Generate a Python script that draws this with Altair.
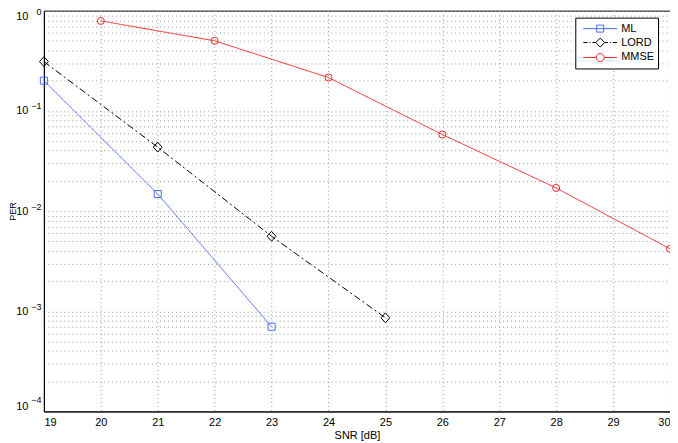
import altair as alt
import pandas as pd

series_names = ["ML", "LORD", "MMSE"]
snr_ml = [19, 21, 23]
per_ml = [0.20, 0.0148, 7.0e-4]
snr_lord = [19, 21, 23, 25]
per_lord = [0.31, 0.0434, 5.6e-3, 8.6e-4]
snr_mmse = [20, 22, 24, 26, 28, 30]
per_mmse = [0.79, 0.50, 0.215, 0.058, 0.017, 0.0042]
x_ticks = list(range(19, 31))
decades = [-4, -3, -2, -1, 0]
exponent_labels = ["\u22124", "\u22123", "\u22122", "\u22121", "0"]

colors = ["#4a6cf5", "#000000", "#f02828"]
dashes = [[1, 0], [7, 3, 2, 3], [1, 0]]
marker_shapes = ["square", "M0,-1.4L1.25,0L0,1.4L-1.25,0Z", "circle"]
# legend symbols (line + marker), drawn 2.15 units to the right of the nominal symbol centre
legend_paths = [
    "M-0.45,0H4.75M1.61,-0.54H2.69V0.54H1.61Z",
    "M-0.45,0H0.2M0.5,0H0.65M0.95,0H1.46M2.84,0H3.35M3.65,0H3.8M4.1,0H4.75M2.15,-0.69L2.84,0L2.15,0.69L1.46,0Z",
    "M-0.45,0H1.53M2.77,0H4.75M2.77,0A0.62,0.62 0 1,1 1.53,0A0.62,0.62 0 1,1 2.77,0Z",
]

rows = []
for name, xs, ys in [("ML", snr_ml, per_ml), ("LORD", snr_lord, per_lord), ("MMSE", snr_mmse, per_mmse)]:
    for x, y in zip(xs, ys):
        rows.append({"series": name, "snr": x, "per": y})
df = pd.DataFrame(rows)

y_vals = []
for d in decades:
    for m in range(1, 10):
        v = m * 10.0 ** d
        if v <= 1.0 + 1e-12:
            y_vals.append(v)
decade_vals = [10.0 ** d for d in decades]

font = "Liberation Sans"
is_decade = "abs(log(datum.value)/LN10 - round(log(datum.value)/LN10)) < 0.001"
exp_array = "[" + ",".join("'" + s + "'" for s in exponent_labels) + "]"

x_enc = alt.X("snr:Q", title="SNR [dB]",
              scale=alt.Scale(domain=[19, 30], nice=False),
              axis=alt.Axis(values=x_ticks, format="d", grid=True, ticks=False, tickSize=0,
                            gridDash=[1, 3], gridColor="#9a9a9a", labelPadding=5,
                            domainColor="black", titlePadding=2))
y_scale = alt.Scale(type="log", domain=[1e-4, 1], nice=False)
y_enc = alt.Y("per:Q", title="PER", scale=y_scale,
              axis=alt.Axis(values=y_vals, grid=True, ticks=False, tickSize=0, labelOverlap=False,
                            labelFlush=True, labelPadding=16,
                            gridDash=[1, 3], gridColor="#9a9a9a", domainColor="black",
                            labelExpr=is_decade + " ? '10' : ''",
                            titleX=-26.5, titleFontSize=9))

color_nolegend = alt.Color("series:N", scale=alt.Scale(domain=series_names, range=colors), legend=None)

lines = alt.Chart(df).mark_line(strokeWidth=1).encode(
    x=x_enc, y=y_enc, color=color_nolegend,
    strokeDash=alt.StrokeDash("series:N", scale=alt.Scale(domain=series_names, range=dashes), legend=None),
)
points = alt.Chart(df).mark_point(filled=False, size=50, strokeWidth=1, opacity=1).encode(
    x="snr:Q", y=alt.Y("per:Q", axis=None), color=color_nolegend,
    shape=alt.Shape("series:N", scale=alt.Scale(domain=series_names, range=marker_shapes), legend=None),
)
legend_layer = alt.Chart(df).transform_filter("false").mark_point(filled=False, strokeWidth=1, opacity=1).encode(
    x="snr:Q",
    y=alt.Y("per:Q", axis=alt.Axis(orient="left", values=decade_vals, grid=False, ticks=False, tickSize=0,
                                   domain=False, title=None, labelOverlap=False, labelFlush=True,
                                   labelFlushOffset=-2, labelPadding=3, labelOffset=-5, labelFontSize=9,
                                   labelExpr=exp_array + "[round(log(datum.value)/LN10)+4]")),
    color=alt.Color("series:N", scale=alt.Scale(domain=series_names, range=colors),
                    legend=alt.Legend(title=None, orient="none", legendX=533, legendY=7,
                                      fillColor="white", strokeColor="black", padding=4,
                                      symbolSize=169, symbolOffset=0, labelOffset=28,
                                      columnPadding=0,
                                      symbolStrokeWidth=1, labelFontSize=11, labelFont=font,
                                      labelColor="black", rowPadding=1, cornerRadius=0)),
    shape=alt.Shape("series:N", scale=alt.Scale(domain=series_names, range=legend_paths)),
)

chart = alt.layer(lines, points, legend_layer).resolve_scale(
    color="independent", shape="independent", strokeDash="independent"
).resolve_axis(y="independent").properties(
    width=628, height=402,
    autosize=alt.AutoSizeParams(type="none"),
    padding={"left": 36, "top": 2, "right": 0, "bottom": 31},
).configure_view(stroke="black", strokeWidth=1).configure_axis(
    labelFont=font, titleFont=font, labelFontSize=11, titleFontSize=11,
    titleFontWeight="normal", labelColor="black", titleColor="black",
)

chart.save("out.html", embed_options={"renderer": "svg", "actions": False})
